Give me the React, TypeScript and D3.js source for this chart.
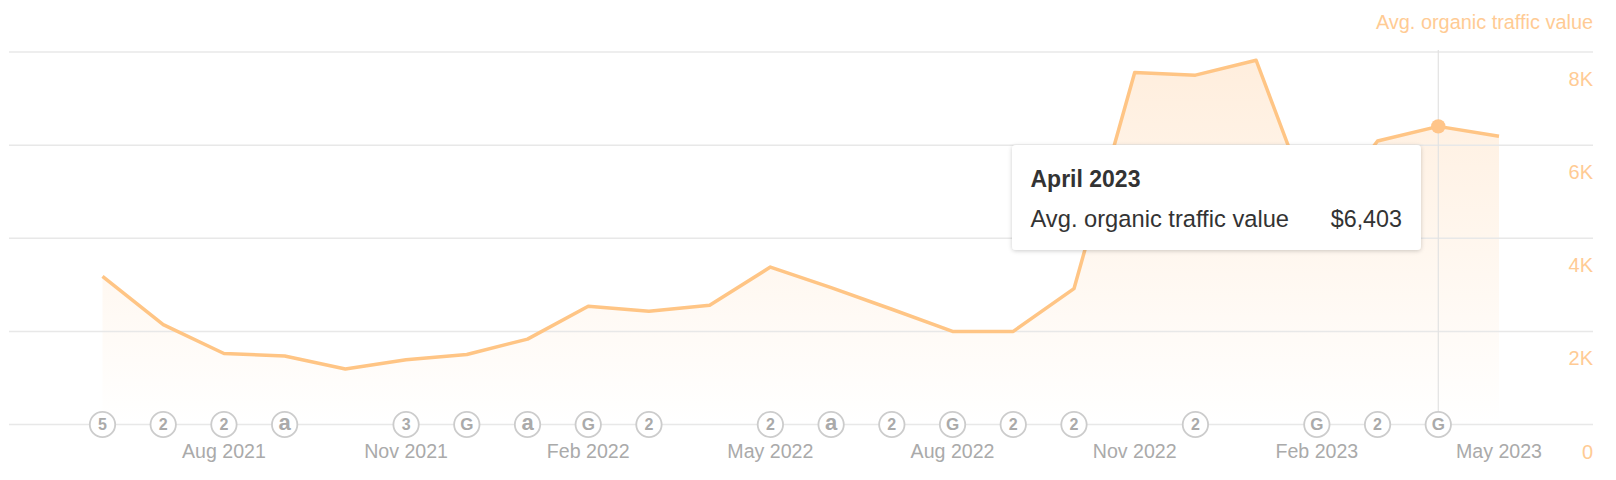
import React, { useEffect, useRef } from 'react';
import * as d3 from 'd3';

const months = [
  'Jun 2021', 'Jul 2021', 'Aug 2021', 'Sep 2021', 'Oct 2021', 'Nov 2021', 'Dec 2021', 'Jan 2022',
  'Feb 2022', 'Mar 2022', 'Apr 2022', 'May 2022', 'Jun 2022', 'Jul 2022', 'Aug 2022', 'Sep 2022',
  'Oct 2022', 'Nov 2022', 'Dec 2022', 'Jan 2023', 'Feb 2023', 'Mar 2023', 'Apr 2023', 'May 2023',
];
const values = [
  3182, 2144, 1525, 1470, 1193, 1392, 1503, 1834,
  2541, 2431, 2563, 3381, 2939, 2475, 2000, 2000,
  2917, 7558, 7503, 7823, 4353, 6090, 6403, 6190,
];
const tickMonths = ['Aug 2021', 'Nov 2021', 'Feb 2022', 'May 2022', 'Aug 2022', 'Nov 2022', 'Feb 2023', 'May 2023'];
const yTicks = [0, 2000, 4000, 6000, 8000];
const yTickLabels = ['0', '2K', '4K', '6K', '8K'];
const annotationMonths = [
  'Jun 2021', 'Jul 2021', 'Aug 2021', 'Sep 2021', 'Nov 2021', 'Dec 2021', 'Jan 2022', 'Feb 2022', 'Mar 2022', 'May 2022',
  'Jun 2022', 'Jul 2022', 'Aug 2022', 'Sep 2022', 'Oct 2022', 'Dec 2022', 'Feb 2023', 'Mar 2023', 'Apr 2023',
];
const annotationLabels = ['5', '2', '2', 'a', '3', 'G', 'a', 'G', '2', '2', 'a', '2', 'G', '2', '2', '2', 'G', '2', 'G'];
const seriesName = 'Avg. organic traffic value';
const hoverMonth = 'Apr 2023';
const hoverTitle = 'April 2023';
const hoverValue = '$6,403';

const FONT = '"Liberation Sans", Arial, sans-serif';
const ORANGE = '#ffc585';
const ORANGE_TEXT = '#ffcb94';

export default function App() {
  const svgRef = useRef<SVGSVGElement | null>(null);

  useEffect(() => {
    if (!svgRef.current) return;
    const svg = d3.select(svgRef.current);
    svg.selectAll('*').remove();

    const x = d3.scalePoint<string>().domain(months).range([102.5, 1499]);
    const y = d3.scaleLinear().domain([0, 8000]).range([424.5, 52]);

    // Gradient + tooltip shadow
    const defs = svg.append('defs');
    const grad = defs.append('linearGradient')
      .attr('id', 'areaFill')
      .attr('x1', 0).attr('y1', 0).attr('x2', 0).attr('y2', 1);
    grad.append('stop').attr('offset', '0%').attr('stop-color', '#ffeedd');
    grad.append('stop').attr('offset', '100%').attr('stop-color', '#ffffff');
    const shadow = defs.append('filter').attr('id', 'tipShadow')
      .attr('x', '-5%').attr('y', '-10%').attr('width', '110%').attr('height', '125%');
    shadow.append('feDropShadow')
      .attr('dx', 0).attr('dy', 1).attr('stdDeviation', 2)
      .attr('flood-color', '#000').attr('flood-opacity', 0.2);

    const area = d3.area<number>()
      .x((_, i) => x(months[i]) as number)
      .y0(y(0))
      .y1(d => y(d));
    const line = d3.line<number>()
      .x((_, i) => x(months[i]) as number)
      .y(d => y(d));
    svg.append('path').datum(values).attr('d', area).attr('fill', 'url(#areaFill)');

    // Grid sits on top of the area
    svg.append('g').selectAll('line').data(yTicks).enter().append('line')
      .attr('x1', 9).attr('x2', 1593)
      .attr('y1', d => y(d)).attr('y2', d => y(d))
      .attr('stroke', '#e8e8e8').attr('stroke-width', 1.5);

    svg.append('path').datum(values).attr('d', line)
      .attr('fill', 'none').attr('stroke', ORANGE).attr('stroke-width', 3.5).attr('stroke-linejoin', 'round');

    // Crosshair + hover dot
    const hx = x(hoverMonth) as number;
    const hv = values[months.indexOf(hoverMonth)];
    svg.append('line')
      .attr('x1', hx).attr('x2', hx).attr('y1', y(8000) - 2).attr('y2', y(0))
      .attr('stroke', '#e2e2e2').attr('stroke-width', 1.2);
    svg.append('circle').attr('cx', hx).attr('cy', y(hv)).attr('r', 7.2).attr('fill', '#ffc58a');

    // Annotations
    const glyphSize = (s: string) => (s === 'a' ? 22 : s === 'G' ? 17 : 16);
    const ann = svg.append('g').selectAll('g').data(annotationMonths).enter().append('g')
      .attr('transform', d => `translate(${x(d)},${y(0)})`);
    ann.append('circle').attr('r', 12.7)
      .attr('fill', '#fff').attr('stroke', '#cccccc').attr('stroke-width', 1.8);
    ann.append('text')
      .text((_, i) => annotationLabels[i])
      .attr('text-anchor', 'middle').attr('dy', 5.5)
      .attr('font-family', FONT).attr('font-weight', 700)
      .attr('font-size', (_, i) => glyphSize(annotationLabels[i]))
      .attr('fill', '#aaaaaa');

    // X labels
    svg.append('g').selectAll('text').data(tickMonths).enter().append('text')
      .text(d => d)
      .attr('x', d => x(d) as number).attr('y', 458)
      .attr('text-anchor', 'middle')
      .attr('font-family', FONT).attr('font-size', 19.6).attr('fill', '#aaaaaa');

    // Y labels
    svg.append('g').selectAll('text').data(yTicks).enter().append('text')
      .text((_, i) => yTickLabels[i])
      .attr('x', 1593).attr('y', d => y(d) + 34)
      .attr('text-anchor', 'end')
      .attr('font-family', FONT).attr('font-size', 20).attr('fill', ORANGE_TEXT);
    svg.append('text').text(seriesName)
      .attr('x', 1593).attr('y', 28.5).attr('text-anchor', 'end')
      .attr('font-family', FONT).attr('font-size', 19.9).attr('fill', ORANGE_TEXT);

    // Tooltip
    const tip = svg.append('g').attr('transform', 'translate(1012,145)');
    tip.append('rect').attr('width', 409).attr('height', 105).attr('rx', 4)
      .attr('fill', '#fff').attr('filter', 'url(#tipShadow)');
    tip.append('text').text(hoverTitle)
      .attr('x', 18.5).attr('y', 41.5)
      .attr('font-family', FONT).attr('font-size', 23).attr('font-weight', 700).attr('fill', '#333333');
    tip.append('text').text(seriesName)
      .attr('x', 18.5).attr('y', 81.5)
      .attr('font-family', FONT).attr('font-size', 23.7).attr('fill', '#333333');
    tip.append('text').text(hoverValue)
      .attr('x', 390).attr('y', 81.5).attr('text-anchor', 'end')
      .attr('font-family', FONT).attr('font-size', 23.3).attr('fill', '#333333');
  }, []);

  return (
    <svg
      ref={svgRef}
      width={1616}
      height={480}
      style={{ position: 'absolute', left: 0, top: 0, background: '#fff' }}
    />
  );
}
